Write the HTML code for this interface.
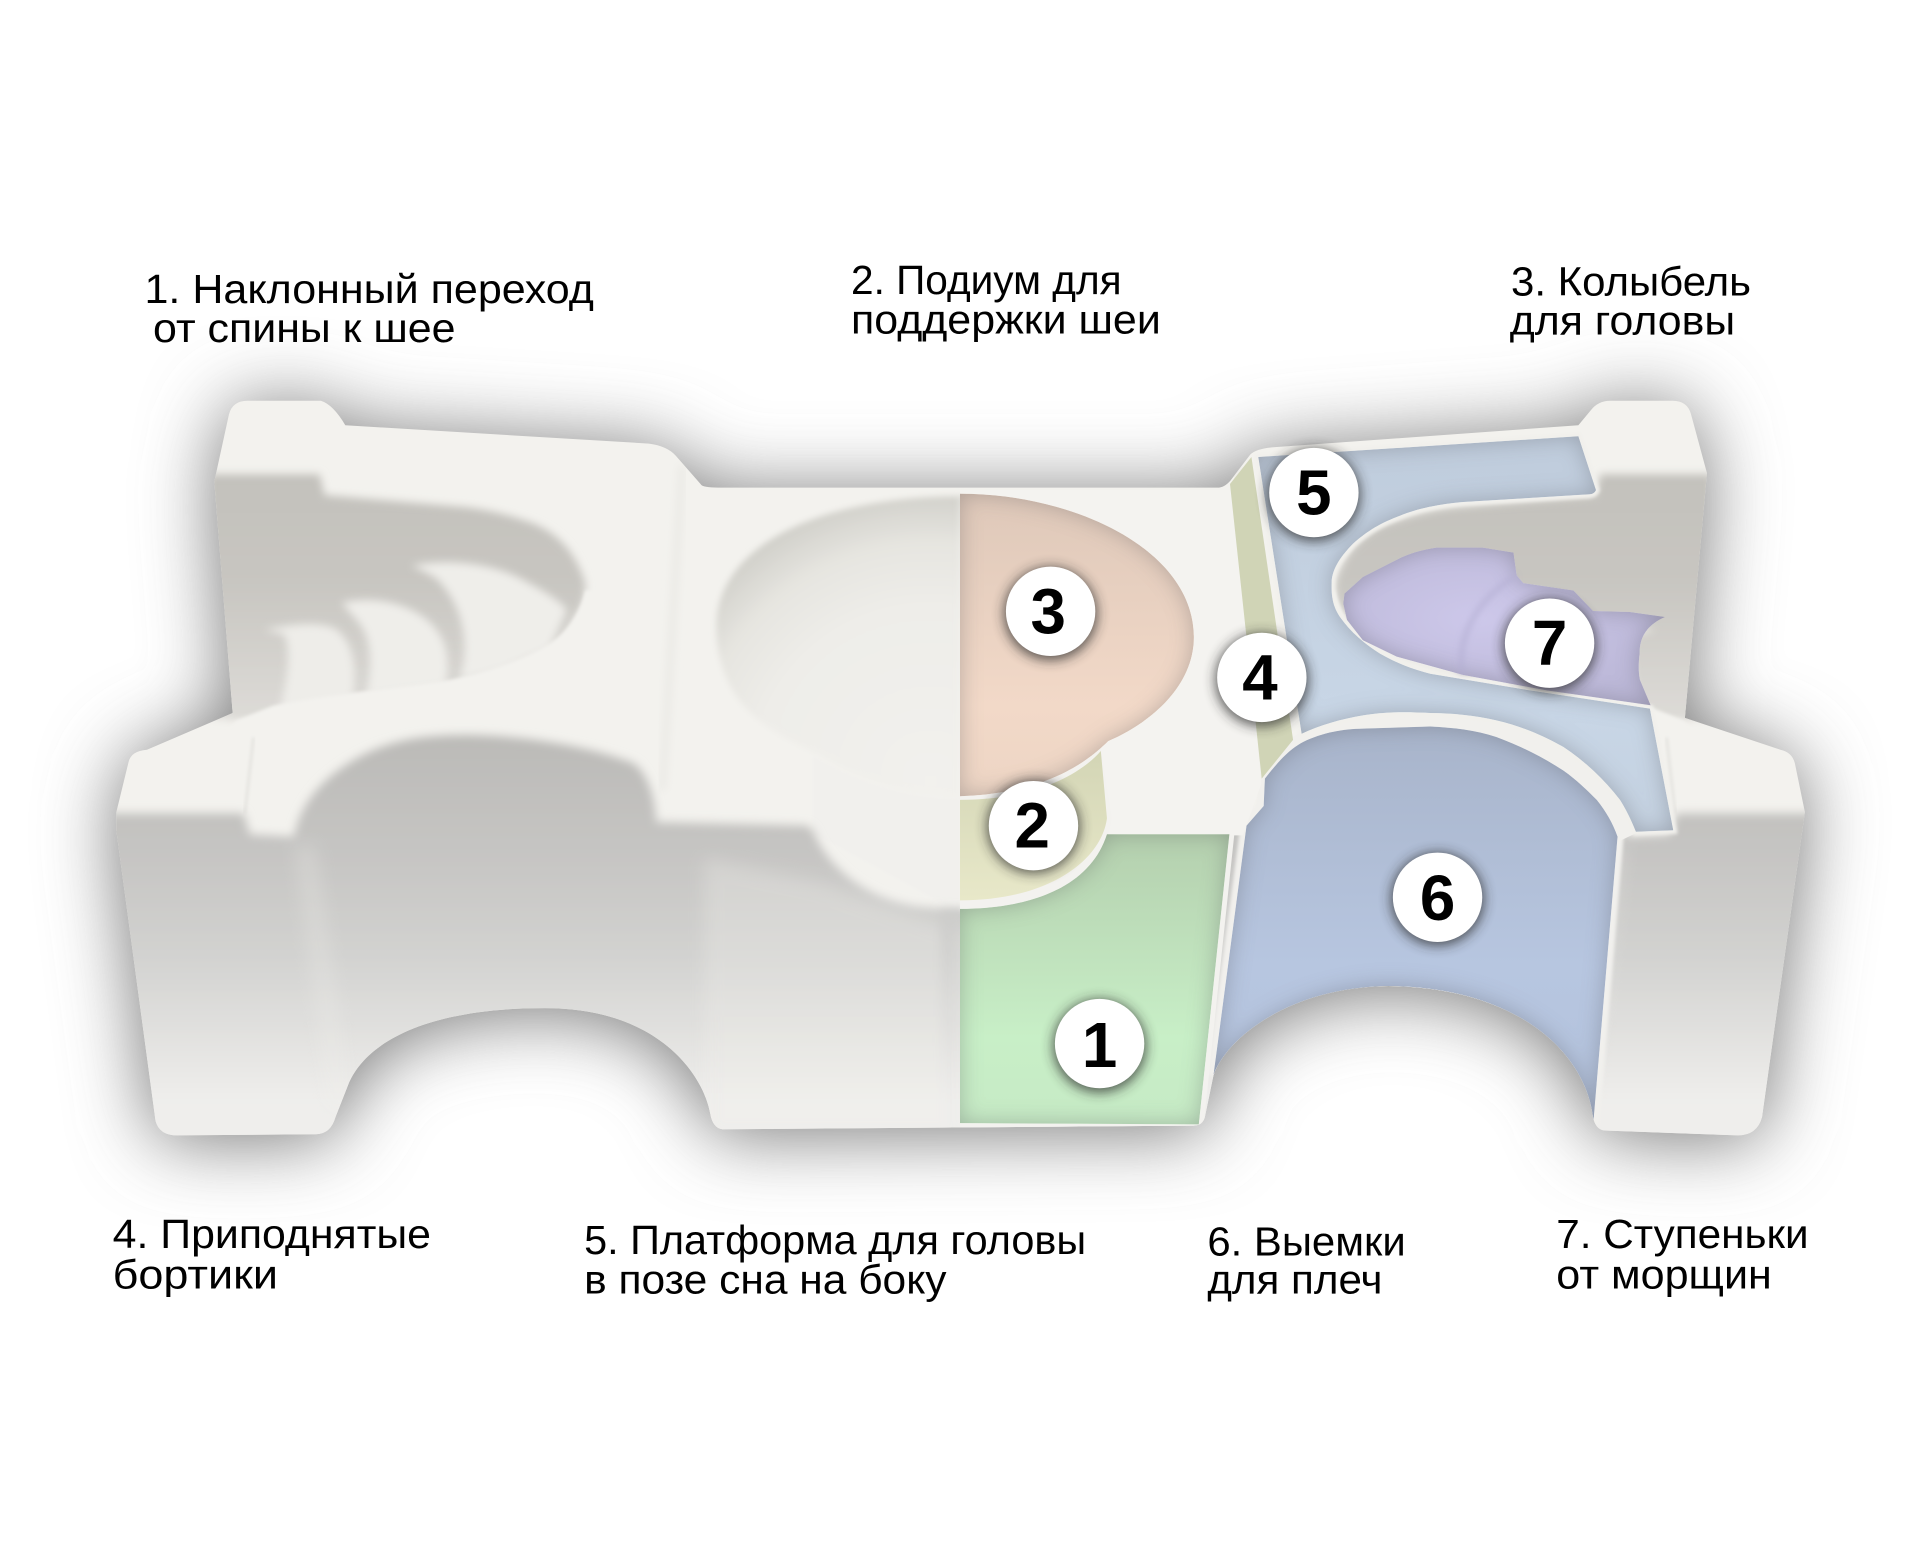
<!DOCTYPE html>
<html><head><meta charset="utf-8"><title>Подушка</title>
<style>html,body{margin:0;padding:0;background:#fff}svg{display:block}
text{font-family:"Liberation Sans",sans-serif}
.l{font-size:33px;fill:#000}
.n{font-size:52px;font-weight:bold;fill:#000;text-anchor:middle}</style></head>
<body>
<svg xmlns="http://www.w3.org/2000/svg" width="1920" height="1568" viewBox="0 0 1568 1280">
<defs>
<path id="body" d="M187 338 Q190 327 202 327 L262 327 Q272 330 282 347 L530 362 Q545 364 552 372 L573 396 Q576 398 590 398 L994 398 Q1000 398 1005 392 L1021 371 Q1026 366 1040 365 L1289 347 L1299 335 Q1305 327 1315 327 L1366 327 Q1378 327 1381 338 L1394 386 L1376 586 L1454 612 Q1464 614 1466 624 L1474 663 L1439 912 Q1435 927 1419 927 L1310 923 Q1303 922 1301 912 C1295 860 1240 806 1134 805 C1050 806 1000 850 991 878 L984 912 Q982 919 975 919 L590 922 Q582 921 580 909 C575 880 540 823 445 823 C350 823 300 850 285 884 L274 912 Q270 926 258 926 L145 927 Q130 927 127 915 L95 678 L95 663 L105 622 Q107 613 120 612 L190 582 L175 393 Z"/>
<clipPath id="bc"><use href="#body"/></clipPath>
<clipPath id="rh"><rect x="784" y="300" width="784" height="700"/></clipPath>
<filter id="b1" x="-20%" y="-20%" width="140%" height="140%"><feGaussianBlur stdDeviation="1.2"/></filter>
<filter id="b2" x="-20%" y="-20%" width="140%" height="140%"><feGaussianBlur stdDeviation="2.5"/></filter>
<filter id="b3" x="-20%" y="-20%" width="140%" height="140%"><feGaussianBlur stdDeviation="3.5"/></filter>
<filter id="b4" x="-20%" y="-20%" width="140%" height="140%"><feGaussianBlur stdDeviation="4"/></filter>
<filter id="b6" x="-20%" y="-20%" width="140%" height="140%"><feGaussianBlur stdDeviation="7"/></filter>
<filter id="sh" x="-20%" y="-30%" width="140%" height="160%"><feGaussianBlur stdDeviation="31"/></filter>
<filter id="cs" x="-50%" y="-50%" width="200%" height="200%"><feGaussianBlur stdDeviation="5"/></filter>
<filter id="inner" x="-5%" y="-5%" width="110%" height="110%" color-interpolation-filters="sRGB">
<feGaussianBlur in="SourceAlpha" stdDeviation="9" result="b"/>
<feComposite in="SourceAlpha" in2="b" operator="arithmetic" k2="1" k3="-1" result="edge"/>
<feFlood flood-color="#4a4a50" flood-opacity=".32"/>
<feComposite in2="edge" operator="in" result="s"/>
<feMerge><feMergeNode in="SourceGraphic"/><feMergeNode in="s"/></feMerge>
</filter>
<linearGradient id="face" gradientUnits="userSpaceOnUse" x1="0" y1="600" x2="0" y2="900"><stop offset="0" stop-color="#bbbab7"/><stop offset=".33" stop-color="#c6c5c3"/><stop offset=".6" stop-color="#d2d2d0"/><stop offset="1" stop-color="#efeeec"/></linearGradient>
<linearGradient id="cav" gradientUnits="userSpaceOnUse" x1="0" y1="390" x2="0" y2="580"><stop offset="0" stop-color="#c3c1bc"/><stop offset=".45" stop-color="#c8c6c1"/><stop offset="1" stop-color="#dcdad6"/></linearGradient>
<radialGradient id="bowl" gradientUnits="userSpaceOnUse" cx="760" cy="640" r="240"><stop offset="0" stop-color="#f2f1ed"/><stop offset=".6" stop-color="#eeede9"/><stop offset=".82" stop-color="#e6e5e0"/><stop offset="1" stop-color="#d0cfc9"/></radialGradient>
<linearGradient id="g3" x1="0" y1="0" x2="0" y2="1"><stop offset="0" stop-color="#dec8b9"/><stop offset=".7" stop-color="#f2d9c8"/><stop offset="1" stop-color="#edd5c4"/></linearGradient>
<linearGradient id="g2" x1="0" y1="0" x2="0" y2="1"><stop offset="0" stop-color="#d3d5b5"/><stop offset="1" stop-color="#e8e8c9"/></linearGradient>
<linearGradient id="g1" x1="0" y1="0" x2="0" y2="1"><stop offset="0" stop-color="#b4cfae"/><stop offset=".7" stop-color="#c8efc7"/><stop offset="1" stop-color="#c6eac5"/></linearGradient>
<linearGradient id="g6" x1="0" y1="0" x2="0" y2="1"><stop offset="0" stop-color="#a8b4ca"/><stop offset=".6" stop-color="#b7c6e0"/><stop offset="1" stop-color="#b3c2dc"/></linearGradient>
<linearGradient id="g5" x1="0" y1="0" x2="0" y2="1"><stop offset="0" stop-color="#bfccdc"/><stop offset=".7" stop-color="#c8d6e6"/><stop offset="1" stop-color="#c4d1e0"/></linearGradient>
<radialGradient id="g7" cx=".42" cy=".45" r=".6"><stop offset="0" stop-color="#cdc8ea"/><stop offset="1" stop-color="#bcb8d8"/></radialGradient>

<g id="shade">
 <path fill="url(#cav)" filter="url(#b3)" d="M170 387 L261 387 L265 404 L381 414 C405 417 420 422 435 427 C455 435 470 450 478 476 C478 490 475 497 471 501 L449 540 L300 590 L193 588 L170 585 Z"/>
 <path fill="#efeeea" filter="url(#b3)" d="M336 462 C355 457 400 456 432 476 C447 484 459 492 463 498 L449 530 L408 548 L375 556 C384 530 380 495 356 472 C349 468 344 465 336 462 Z"/>
 <path fill="#efeeea" filter="url(#b3)" d="M279 492 C304 486 333 492 350 507 C364 520 368 535 364 560 L299 568 C305 540 303 520 292 507 Z"/>
 <path fill="#eeede9" filter="url(#b3)" d="M216 514 C242 509 262 507 275 514 C288 524 292 545 288 570 L228 582 C235 555 238 530 232 518 Z"/>
 <path fill="#f3f2ee" filter="url(#b1)" d="M185 596 L193 588 L223 576 C270 566 330 561 367 555 C400 548 430 537 449 525 C462 516 472 505 478 482 L560 480 L560 690 L185 690 Z"/>
 <path fill="none" stroke="#e9e8e4" stroke-width="5" filter="url(#b3)" d="M557 380 L541 645"/>
 <path fill="none" stroke="#e2e1dd" stroke-width="2" filter="url(#b1)" d="M207 602 L200 664"/>
 <path fill="url(#bowl)" filter="url(#b2)" d="M784 405 C680 405 585 440 585 512 C585 535 592 556 604 572 C620 592 645 605 667 615 C690 630 730 650 784 650 Z"/>
 <path fill="#f1f0ed" filter="url(#b1)" d="M664 617 L664 680 L784 745 L784 652 C730 652 690 632 664 617 Z"/>
 <path fill="url(#face)" filter="url(#b4)" d="M85 664 L199 664 L204 681 L240 683 C245 655 265 632 299 615 C320 605 340 602 354 601 C400 597 470 605 517 623 C528 630 535 650 536 671 L659 674 L664 678 C672 700 700 733 749 740 L784 743 L800 743 L800 940 L85 940 Z"/>
 <path fill="#f1f0ec" opacity=".25" filter="url(#b6)" d="M240 690 L258 690 L288 905 L268 905 Z"/>
 <path fill="#f1f0ec" opacity=".3" filter="url(#b6)" d="M575 700 L670 720 L784 760 L784 930 L575 930 Z"/>
</g>

<path id="r5" d="M1027.6 373 L1289 356 L1303.4 400 Q1302 403 1298.5 403.4 L1195 409.7 C1170 412 1155 416 1140.6 422 C1125 428 1115 435 1105 443.7 C1093 456 1087.5 466 1087.5 476 C1087 490 1090 497 1094.3 503.6 C1103 516 1115 526 1127 533.5 C1140 541 1153 546 1168 550 L1249.5 563.5 L1347.4 578.4 L1366.5 677.8 L1336 679 C1332 669 1328 661 1323 653 C1310 636 1295 622 1276.7 609.7 C1260 600 1240 592 1222 588 C1205 584 1185 582 1168 582 C1148 581 1130 581 1113 584 C1095 587 1078 592 1063 599 Z"/>
<path id="r6" d="M1018 674 L1032 658 L1033 635.6 C1043 623 1052 612 1064.4 605.6 C1080 598 1097 595 1113.4 594.8 L1168 593 C1188 594 1205 596 1222 601.6 C1242 609 1260 618 1276.7 629 C1288 637 1296 645 1304 653 C1312 663 1317 672 1321 683 L1301 919 L1299 903 C1290 860 1240 806 1134 805 C1060 806 1000 850 991 878 Z"/>
<path id="r1" d="M904 681 L1004 681 L979 918 L784 917 L784 742 C840 742 890 725 904 681 Z"/>
<path id="r3" d="M784 403 C880 403 975 450 975 520 C975 560 940 590 905 605 C885 625 850 648 784 650 Z"/>
</defs>

<rect width="1568" height="1280" fill="#fff"/>
<use href="#body" fill="#777" filter="url(#sh)" transform="translate(0,4)"/>
<use href="#body" fill="#f3f2ee"/>
<g clip-path="url(#bc)">
 <use href="#shade"/>
 <use href="#shade" transform="translate(1568,0) scale(-1,1)"/>
 <g clip-path="url(#rh)">
 <path fill="none" stroke="#f1f0ed" stroke-width="26" d="M1033 636 C1060 605 1110 590 1168 587 C1240 590 1300 625 1328 684"/>
 <use href="#r5" fill="#f1f0ec" stroke="#f1f0ec" stroke-width="6" filter="url(#b1)"/>
 <use href="#r6" fill="#f1f0ed" stroke="#f1f0ed" stroke-width="10" filter="url(#b1)"/>
 <use href="#r1" fill="#f3f2ef" stroke="#f3f2ef" stroke-width="8"/>
 <path fill="#f4f3f0" d="M784 400 L1010 400 L1030 640 L1015 682 L904 682 L895 610 L784 652 Z"/>
 <path fill="#f3f2ef" d="M784 650 L899 610 L908 668 C904 705 860 746 784 742 Z"/>
 </g>
 <use href="#r3" fill="url(#g3)" filter="url(#inner)"/>
 <path fill="url(#g2)" d="M784 653 C840 653 880 635 899 613 L904 668 C900 700 860 735 784 735 Z"/>
 <use href="#r1" fill="url(#g1)" filter="url(#inner)"/>
 <path fill="#d0d4b6" d="M1022 373 L1004.5 395 L1030.4 635.6 L1056 604 Z"/>
 <use href="#r5" fill="url(#g5)" filter="url(#inner)"/>
 <use href="#r6" fill="url(#g6)" filter="url(#inner)"/>
 <path fill="url(#g7)" filter="url(#inner)" d="M1097 492.7 L1098 484.5 L1113 471 L1140.6 457 C1150 452 1160 449 1173 447 L1211 447 L1236 451 L1238.6 469.6 L1244 476 L1285 482 L1301 498.7 L1331 499.5 L1359.7 503.6 C1352 507 1349 510 1346 513 C1340 520 1339 527 1339 533.5 C1338 542 1338 549 1339.3 555 L1348 575.7 L1263 563.5 L1195 551 L1140.6 536 L1113 522.6 L1100 506 Z"/>
 <path fill="none" stroke="#b3aed2" stroke-width="4" opacity=".7" filter="url(#b2)" d="M1238 470 C1205 490 1190 520 1194 550"/>
</g>

<g fill="#2b2b2b" opacity=".75" filter="url(#cs)">
<circle cx="858" cy="501" r="38"/><circle cx="844" cy="675" r="38"/><circle cx="1073" cy="404" r="38"/><circle cx="1030.5" cy="555" r="38"/><circle cx="1265.5" cy="527" r="38"/><circle cx="1174" cy="734" r="38"/><circle cx="898" cy="854" r="38"/>
</g>
<g fill="#fff">
<circle cx="858" cy="499" r="36.5"/><circle cx="844" cy="674" r="36.5"/><circle cx="1073" cy="402" r="36.5"/><circle cx="1030.5" cy="553" r="36.5"/><circle cx="1265.5" cy="525" r="36.5"/><circle cx="1174" cy="732.5" r="36.5"/><circle cx="898" cy="852" r="36.5"/>
</g>
<text class="n" x="856" y="517">3</text>
<text class="n" x="843" y="692">2</text>
<text class="n" x="1073" y="420">5</text>
<text class="n" x="1029" y="571">4</text>
<text class="n" x="1265.5" y="543">7</text>
<text class="n" x="1174" y="751">6</text>
<text class="n" x="898" y="871">1</text>

<text class="l" x="118" y="247" textLength="367" lengthAdjust="spacingAndGlyphs">1. Наклонный переход</text>
<text class="l" x="125" y="279" textLength="247" lengthAdjust="spacingAndGlyphs">от спины к шее</text>
<text class="l" x="695" y="240" textLength="221" lengthAdjust="spacingAndGlyphs">2. Подиум для</text>
<text class="l" x="695" y="272" textLength="253" lengthAdjust="spacingAndGlyphs">поддержки шеи</text>
<text class="l" x="1234" y="241" textLength="196" lengthAdjust="spacingAndGlyphs">3. Колыбель</text>
<text class="l" x="1233" y="273" textLength="184" lengthAdjust="spacingAndGlyphs">для головы</text>
<text class="l" x="92" y="1019" textLength="260" lengthAdjust="spacingAndGlyphs">4. Приподнятые</text>
<text class="l" x="92" y="1052" textLength="135" lengthAdjust="spacingAndGlyphs">бортики</text>
<text class="l" x="477" y="1024" textLength="410" lengthAdjust="spacingAndGlyphs">5. Платформа для головы</text>
<text class="l" x="477" y="1056" textLength="296" lengthAdjust="spacingAndGlyphs">в позе сна на боку</text>
<text class="l" x="986" y="1025" textLength="162" lengthAdjust="spacingAndGlyphs">6. Выемки</text>
<text class="l" x="986" y="1056" textLength="143" lengthAdjust="spacingAndGlyphs">для плеч</text>
<text class="l" x="1271" y="1019" textLength="206" lengthAdjust="spacingAndGlyphs">7. Ступеньки</text>
<text class="l" x="1271" y="1052" textLength="176" lengthAdjust="spacingAndGlyphs">от морщин</text>
</svg>
</body></html>
